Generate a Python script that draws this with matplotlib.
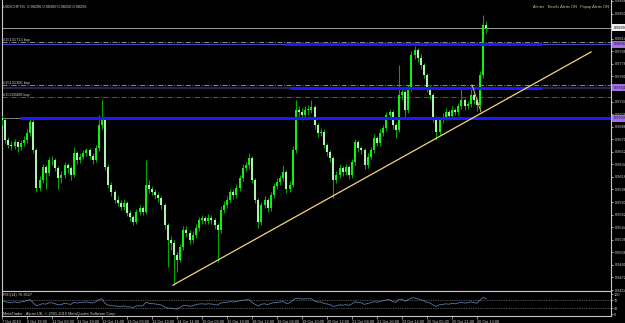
import matplotlib
matplotlib.use("Agg")
import matplotlib.pyplot as plt
import matplotlib.transforms as mtransforms
import numpy as np

plt.rcParams['font.family'] = ['Liberation Sans', 'DejaVu Sans']

# ---------------- data ----------------
symbol_title = "USDCHF,H1  0.98296 0.98300 0.98250 0.98256"
alert_text = "Alerter   Emails Alerts ON   Popup Alerts ON"
copyright_text = "MetaTrader - Alpari UK, \u00a9 2001-2010 MetaQuotes Software Corp."
rsi_title = "RSI(14) 76.8527"

first_open = 0.9701
closes = [
    0.9698, 0.9669, 0.9662, 0.9660, 0.9666, 0.9659, 0.9665, 0.9669, 0.9679, 0.9695,
    0.9654, 0.9600, 0.9612, 0.9630, 0.9621, 0.9640, 0.9640, 0.9629, 0.9614, 0.9619,
    0.9633, 0.9629, 0.9619, 0.9650, 0.9640, 0.9645, 0.9650, 0.9654, 0.9646, 0.9640,
    0.9657, 0.9690, 0.9698, 0.9630, 0.9605, 0.9594, 0.9583, 0.9579, 0.9573, 0.9579,
    0.9564, 0.9559, 0.9551, 0.9566, 0.9571, 0.9566, 0.9605, 0.9598, 0.9595, 0.9590,
    0.9586, 0.9576, 0.9547, 0.9526, 0.9521, 0.9504, 0.9497, 0.9516, 0.9540, 0.9536,
    0.9526, 0.9533, 0.9543, 0.9554, 0.9557, 0.9553, 0.9557, 0.9554, 0.9547, 0.9540,
    0.9569, 0.9576, 0.9583, 0.9594, 0.9590, 0.9600, 0.9614, 0.9629, 0.9633, 0.9643,
    0.9612, 0.9583, 0.9551, 0.9576, 0.9583, 0.9571, 0.9590, 0.9603, 0.9609, 0.9614,
    0.9623, 0.9598, 0.9605, 0.9654, 0.9712, 0.9709, 0.9705, 0.9712, 0.9712, 0.9716,
    0.9690, 0.9679, 0.9680, 0.9662, 0.9652, 0.9643, 0.9612, 0.9619, 0.9629, 0.9623,
    0.9630, 0.9619, 0.9637, 0.9666, 0.9657, 0.9654, 0.9633, 0.9645, 0.9654, 0.9672,
    0.9665, 0.9679, 0.9686, 0.9705, 0.9709, 0.9690, 0.9683, 0.9733, 0.9738, 0.9712,
    0.9743, 0.9791, 0.9798, 0.9786, 0.9776, 0.9762, 0.9743, 0.9733, 0.9700, 0.9680,
    0.9698, 0.9702, 0.9709, 0.9703, 0.9712, 0.9709, 0.9717, 0.9726, 0.9717, 0.9720,
    0.9733, 0.9726, 0.9719, 0.9762, 0.9833, 0.9829,
]
highs = [
    0.9703, 0.9699, 0.9673, 0.9667, 0.9670, 0.9668, 0.9669, 0.9674, 0.9684, 0.9701,
    0.9698, 0.9657, 0.9618, 0.9634, 0.9633, 0.9645, 0.9646, 0.9643, 0.9632, 0.9624,
    0.9637, 0.9636, 0.9632, 0.9659, 0.9653, 0.9650, 0.9655, 0.9658, 0.9657, 0.9650,
    0.9662, 0.9705, 0.9726, 0.9702, 0.9634, 0.9609, 0.9597, 0.9588, 0.9583, 0.9584,
    0.9582, 0.9568, 0.9562, 0.9570, 0.9576, 0.9574, 0.9640, 0.9612, 0.9603, 0.9599,
    0.9594, 0.9589, 0.9579, 0.9550, 0.9531, 0.9525, 0.9509, 0.9520, 0.9545, 0.9546,
    0.9540, 0.9538, 0.9548, 0.9559, 0.9562, 0.9560, 0.9563, 0.9561, 0.9557, 0.9550,
    0.9574, 0.9581, 0.9588, 0.9599, 0.9598, 0.9606, 0.9619, 0.9634, 0.9638, 0.9650,
    0.9646, 0.9615, 0.9586, 0.9580, 0.9588, 0.9586, 0.9594, 0.9607, 0.9614, 0.9619,
    0.9633, 0.9626, 0.9610, 0.9660, 0.9726, 0.9718, 0.9714, 0.9718, 0.9719, 0.9726,
    0.9719, 0.9693, 0.9686, 0.9684, 0.9665, 0.9655, 0.9646, 0.9624, 0.9634, 0.9632,
    0.9635, 0.9633, 0.9641, 0.9671, 0.9669, 0.9661, 0.9657, 0.9650, 0.9659, 0.9677,
    0.9675, 0.9684, 0.9691, 0.9709, 0.9713, 0.9712, 0.9693, 0.9776, 0.9745, 0.9741,
    0.9748, 0.9796, 0.9803, 0.9801, 0.9792, 0.9779, 0.9765, 0.9747, 0.9736, 0.9703,
    0.9702, 0.9707, 0.9714, 0.9712, 0.9717, 0.9715, 0.9722, 0.9743, 0.9729, 0.9725,
    0.9748, 0.9736, 0.9729, 0.9767, 0.9848, 0.9840,
]
lows = [
    0.9690, 0.9664, 0.9657, 0.9655, 0.9656, 0.9652, 0.9655, 0.9661, 0.9665, 0.9675,
    0.9650, 0.9594, 0.9596, 0.9608, 0.9598, 0.9617, 0.9633, 0.9624, 0.9598, 0.9607,
    0.9615, 0.9622, 0.9612, 0.9616, 0.9635, 0.9636, 0.9641, 0.9646, 0.9641, 0.9635,
    0.9637, 0.9653, 0.9685, 0.9626, 0.9600, 0.9588, 0.9578, 0.9574, 0.9568, 0.9569,
    0.9560, 0.9553, 0.9547, 0.9548, 0.9562, 0.9561, 0.9563, 0.9593, 0.9590, 0.9585,
    0.9580, 0.9570, 0.9541, 0.9487, 0.9512, 0.9461, 0.9480, 0.9494, 0.9512, 0.9530,
    0.9520, 0.9521, 0.9529, 0.9539, 0.9549, 0.9548, 0.9549, 0.9549, 0.9542, 0.9494,
    0.9536, 0.9564, 0.9571, 0.9579, 0.9584, 0.9586, 0.9596, 0.9610, 0.9624, 0.9628,
    0.9607, 0.9578, 0.9543, 0.9547, 0.9571, 0.9566, 0.9567, 0.9586, 0.9599, 0.9604,
    0.9610, 0.9593, 0.9594, 0.9601, 0.9650, 0.9700, 0.9698, 0.9700, 0.9705, 0.9707,
    0.9685, 0.9673, 0.9674, 0.9657, 0.9646, 0.9637, 0.9586, 0.9607, 0.9615, 0.9617,
    0.9619, 0.9613, 0.9615, 0.9633, 0.9652, 0.9649, 0.9628, 0.9629, 0.9641, 0.9650,
    0.9660, 0.9661, 0.9675, 0.9682, 0.9700, 0.9685, 0.9672, 0.9680, 0.9726, 0.9700,
    0.9708, 0.9739, 0.9785, 0.9780, 0.9771, 0.9757, 0.9738, 0.9728, 0.9695, 0.9669,
    0.9676, 0.9693, 0.9698, 0.9698, 0.9699, 0.9704, 0.9705, 0.9713, 0.9712, 0.9713,
    0.9716, 0.9720, 0.9710, 0.9715, 0.9758, 0.9822,
]
rsi_values = [
    68, 62, 58, 57, 61, 57, 60, 63, 67, 72,
    55, 42, 46, 52, 49, 56, 56, 51, 46, 48,
    53, 51, 48, 58, 55, 57, 59, 60, 57, 55,
    61, 72, 76, 52, 45, 42, 40, 39, 38, 40,
    36, 35, 33, 40, 42, 40, 58, 54, 52, 50,
    48, 45, 36, 30, 29, 26, 25, 33, 43, 42,
    39, 42, 46, 50, 51, 49, 51, 50, 47, 45,
    55, 57, 59, 62, 60, 63, 66, 69, 70, 72,
    58, 48, 40, 49, 51, 47, 53, 57, 58, 60,
    62, 53, 55, 68, 79, 77, 75, 76, 76, 77,
    65, 60, 60, 53, 50, 47, 38, 41, 46, 44,
    47, 43, 51, 61, 57, 56, 48, 53, 56, 62,
    59, 63, 66, 71, 72, 62, 58, 73, 74, 64,
    72, 80, 81, 76, 72, 66, 58, 55, 44, 38,
    46, 48, 51, 49, 53, 51, 55, 59, 55, 56,
    61, 57, 54, 70, 83, 76.85,
]

time_labels = ["7 Oct 2010", "8 Oct 19:00", "11 Oct 03:00", "11 Oct 19:00", "12 Oct 11:00",
               "13 Oct 03:00", "13 Oct 19:00", "14 Oct 11:00", "15 Oct 03:00", "15 Oct 19:00",
               "18 Oct 12:00", "19 Oct 04:00", "19 Oct 20:00", "20 Oct 12:00", "21 Oct 04:00",
               "21 Oct 20:00", "22 Oct 12:00", "25 Oct 05:00", "25 Oct 21:00", "26 Oct 13:00"]
time_label_bars = [0, 8, 16, 24, 32, 40, 48, 56, 64, 72, 80, 88, 96, 104, 112, 120, 128, 136, 144, 152]

price_ticks = [0.94540, 0.94720, 0.94900, 0.95080, 0.95260, 0.95440, 0.95620, 0.95800,
               0.95980, 0.96160, 0.96340, 0.96520, 0.96700, 0.96880, 0.97060, 0.97240,
               0.97420, 0.97600, 0.97780, 0.97960, 0.98140, 0.98320, 0.98500, 0.98680]
rsi_ticks = [100, 70, 30, 0]
rsi_levels = [70, 30]

bid_price = 0.98296
# horizontal lines (price, start bar, end bar)
blue_line_prices = [0.9806, 0.9744, 0.9700]
blue_line_start = [90.6, 92.2, 5.8]
blue_line_end = [172.8, 172.8, 194.9]
blue_line_tags = ["0.98060", "0.97440", "0.97000"]
order_prices = [0.9809, 0.9748, 0.9730]
order_labels = ["#15131713 buy", "#15131306 buy", "#15220408 buy"]
trend_bars = [54.7, 188.5]
trend_prices = [0.9461, 0.9795]
small_bars = [150.4, 153.3]
small_prices = [0.9748, 0.9709]

# ---------------- figure ----------------
W, H = 625, 323
fig = plt.figure(figsize=(W / 100, H / 100), dpi=100, facecolor='black')

def px_axes(x0, y0, x1, y1):
    return fig.add_axes([x0 / W, 1 - y1 / H, (x1 - x0) / W, (y1 - y0) / H])

FRAME = '#c8c8c8'
TXT = '#d0d0d0'
FS = 2.8

ax = px_axes(2, 0, 611, 291)
ax.set_facecolor('black')
n = len(closes)
xb = np.arange(n)
ax.set_xlim(0, 194.88)
ax.set_ylim(0.94526, 0.98694)
for s in ax.spines.values():
    s.set_color(FRAME)
    s.set_linewidth(0.8)
ax.spines['top'].set_visible(False)

opens = [first_open] + closes[:-1]

# horizontal thin alert lines (full width)
ax.axhline(blue_line_prices[0], color='#4a46c8', lw=0.7, zorder=1)
ax.axhline(blue_line_prices[1], color='#2c2050', lw=1.6, zorder=1)
ax.axhline(blue_line_prices[2], color='#808080', lw=0.7, zorder=1)
# bid line
ax.axhline(bid_price, color='#9a9a9a', lw=0.7, zorder=1)
# order lines
order_colors = ['#a0a0a0', '#a0a0a0', '#3a8a3a']
ybt = mtransforms.blended_transform_factory(ax.transAxes, ax.transData)
for p, lab, col in zip(order_prices, order_labels, order_colors):
    ax.axhline(p, color=col, lw=0.6, ls=(0, (6, 2, 1, 2)), zorder=1)
    ax.text(0.002, p, lab, transform=ybt, color=TXT, fontsize=FS, va='bottom', ha='left')

# candles
for i in range(n):
    o, c, hgh, low = opens[i], closes[i], highs[i], lows[i]
    ax.vlines(xb[i], low, hgh, color='#00a800', lw=0.75, zorder=3)
    col = '#10f010' if c >= o else '#b0f0b0'
    lo, hi = min(o, c), max(o, c)
    if hi - lo < 0.00008:
        hi = lo + 0.00008
    ax.vlines(xb[i], lo, hi, color=col, lw=1.45, zorder=4)

# blue thick lines
for p, s, e in zip(blue_line_prices, blue_line_start, blue_line_end):
    ax.plot([s, e], [p, p], color='#1a1aff', lw=2.2, zorder=5, solid_capstyle='butt')

# trend lines
ax.plot(trend_bars, trend_prices, color='#f4d47a', lw=0.9, zorder=6)
ax.plot(small_bars, small_prices, color='#f4d47a', lw=0.6, zorder=6)

# right price scale
ax.yaxis.tick_right()
ax.set_yticks(price_ticks)
ax.set_yticklabels([f"{t:.5f}" for t in price_ticks])
ax.tick_params(axis='y', colors=FRAME, labelcolor=TXT, labelsize=FS, length=1.6, width=0.6, pad=1)
ax.set_xticks([])

for p, tag in zip(blue_line_prices, blue_line_tags):
    ax.text(1.004, p, tag, transform=ybt, fontsize=FS, color='#201030', va='center', ha='left',
            bbox=dict(boxstyle='square,pad=0.35', fc='#a070e0', ec='none'), clip_on=False, zorder=10)
ax.text(1.004, bid_price, f"{bid_price:.5f}", transform=ybt, fontsize=FS, color='black', va='center', ha='left',
        bbox=dict(boxstyle='square,pad=0.35', fc='#f0f0f0', ec='none'), clip_on=False, zorder=10)

# texts
ax.text(0.002, 0.985, symbol_title, transform=ax.transAxes, fontsize=FS, color=TXT, va='top', ha='left')
ax.text(0.9965, 0.982, alert_text, transform=ax.transAxes, fontsize=FS, color='#d8c27a', va='top', ha='right')

# ---------------- RSI panel ----------------
ax2 = px_axes(2, 291, 611, 316)
ax2.set_facecolor('black')
ax2.set_xlim(0, 194.88)
ax2.set_ylim(-10, 115)
for s in ax2.spines.values():
    s.set_color(FRAME)
    s.set_linewidth(0.8)
ax2.plot(xb, rsi_values, color='#5878a8', lw=0.6)
for lv in rsi_levels:
    ax2.axhline(lv, color='#9a9a9a', lw=0.5, ls=(0, (1, 1.5)))
ax2.yaxis.tick_right()
ax2.set_yticks(rsi_ticks)
ax2.set_yticklabels([str(t) for t in rsi_ticks])
ax2.tick_params(axis='y', colors=FRAME, labelcolor=TXT, labelsize=FS, length=1.2, width=0.5, pad=1)
ax2.text(0.002, 0.93, rsi_title, transform=ax2.transAxes, fontsize=FS, color=TXT, va='top', ha='left')
ax2.text(0.002, 0.02, copyright_text, transform=ax2.transAxes, fontsize=FS, color=TXT, va='bottom', ha='left')

ax2.set_xticks(time_label_bars)
ax2.set_xticklabels(time_labels, ha='left')
ax2.tick_params(axis='x', colors=FRAME, labelcolor=TXT, labelsize=FS, length=2.0, width=0.5, pad=0.8)

fig.savefig('out.png', dpi=100, facecolor='black')
